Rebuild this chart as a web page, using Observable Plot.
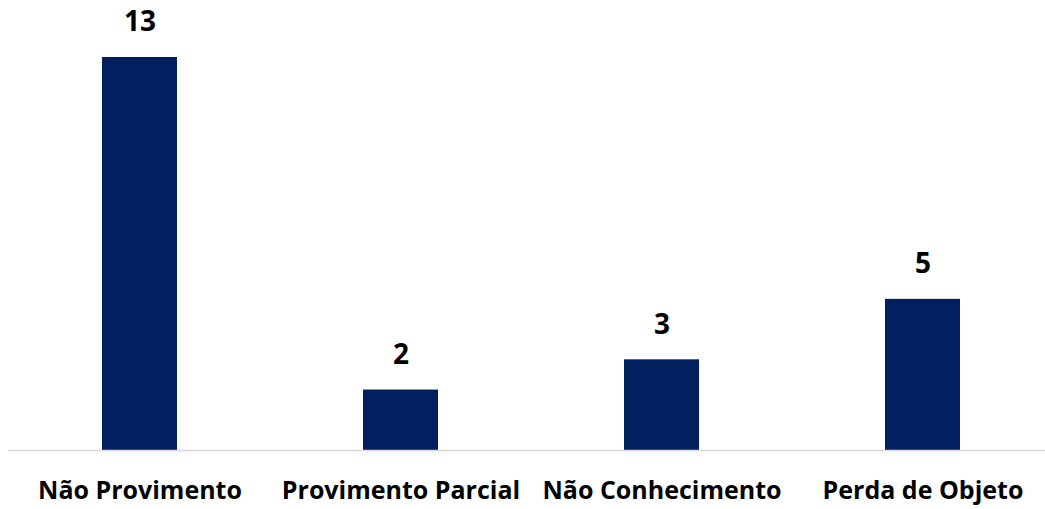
<!DOCTYPE html>
<html><head><meta charset="utf-8">
<script src="https://cdn.jsdelivr.net/npm/d3@7"></script>
<script src="https://cdn.jsdelivr.net/npm/@observablehq/plot@0.6"></script>
<style>
body{margin:0;background:#fff;}
</style></head>
<body><div id="chart"></div>
<script>
const categories = ["Não Provimento", "Provimento Parcial", "Não Conhecimento", "Perda de Objeto"];
const values = [13, 2, 3, 5];
const data = categories.map((c, i) => ({category: c, value: values[i]}));

const chart = Plot.plot({
  width: 1045,
  height: 509,
  marginTop: 0, marginBottom: 0, marginLeft: 8, marginRight: 0,
  style: {fontFamily: "'Open Sans', sans-serif", background: "#fff"},
  x: {domain: categories, range: [9, 1053], paddingInner: 0.7126, paddingOuter: 0.3563, axis: null},
  y: {domain: [0, 13], range: [450, 57], axis: null},
  marks: [
    Plot.barY(data, {x: "category", y: "value", fill: "#002060"}),
    Plot.ruleY([0], {stroke: "#d9d9d9", strokeWidth: 1.5}),
    Plot.text(data, {x: "category", y: "value", text: d => String(d.value), dy: -35, fontSize: 28, fontWeight: "bold", fill: "#000"}),
    Plot.text(data, {x: "category", y: 0, text: "category", dy: 40, fontSize: 25, fontWeight: "bold", fill: "#000"})
  ]
});
document.getElementById("chart").append(chart);
</script></body></html>
